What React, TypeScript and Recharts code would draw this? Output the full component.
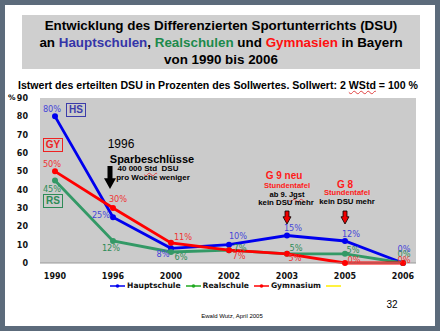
import React from "react";
import { LineChart, Line, XAxis, YAxis, CartesianGrid, Legend, LabelList } from "recharts";

const years = ["1990", "1996", "2000", "2002", "2003", "2005", "2006"];
const hauptschule = [80, 25, 8, 10, 15, 12, 0];
const realschule = [45, 12, 6, 7, 5, 5, 0];
const gymnasium = [50, 30, 11, 7, 5, 0, 0];
const yTicks = [0, 10, 20, 30, 40, 50, 60, 70, 80, 90];

// where each value label sits relative to its point (px)
const hsOffsets = [[-3, -7], [-12, -2], [-8, 6], [9, -9], [6, -8], [6, -7], [1, -14]];
const rsOffsets = [[-3, 8], [-2, 7], [10, 5], [11, -2], [9, -6], [8, -4], [1, -9]];
const gyOffsets = [[-3, -7], [5, -9], [12, -6], [10, 6], [8, 4], [9, -3], [1, -3]];

const series = [
  { key: "hs", name: "Hauptschule", color: "#0000ee", label: "#4646d8", offsets: hsOffsets },
  { key: "rs", name: "Realschule", color: "#339966", label: "#2e8b57", offsets: rsOffsets },
  { key: "gy", name: "Gymnasium", color: "#ff0000", label: "#ee3333", offsets: gyOffsets },
];
const legendItems = [
  { name: "Hauptschule", color: "#0000ee" },
  { name: "Realschule", color: "#22aa22" },
  { name: "Gymnasium", color: "#ff0000" },
  { name: "", color: "#ffee00" },
];

const data = years.map((year, i) => ({
  year,
  hs: hauptschule[i],
  rs: realschule[i],
  gy: gymnasium[i],
}));

const arial = "'Liberation Sans', Arial, sans-serif";
const verdana = "'DejaVu Sans', Verdana, sans-serif";
const squiggle: React.CSSProperties = {
  textDecoration: "underline wavy #e04040",
  textDecorationThickness: 1,
};

function makeLabel(color: string, offsets: number[][]) {
  return (props: any) => {
    const { x, y, value, index } = props;
    const [dx, dy] = offsets[index] || [0, -8];
    return (
      <text
        x={x + dx}
        y={y + dy}
        fill={color}
        fontSize={8.2}
        fontFamily={verdana}
        textAnchor="middle"
        dominantBaseline="central"
      >
        {value}%
      </text>
    );
  };
}

function LegendContent() {
  return (
    <div style={{ display: "flex", justifyContent: "center", paddingLeft: 16, fontFamily: verdana, fontSize: 7.6, fontWeight: "bold", color: "#111" }}>
      {legendItems.map((it) => (
        <div key={it.color} style={{ display: "flex", alignItems: "center", marginRight: 5 }}>
          <svg width={15} height={8}>
            <line x1={0} y1={4} x2={15} y2={4} stroke={it.color} strokeWidth={1.5} />
            {it.name && <circle cx={7.5} cy={4} r={1.8} fill={it.color} />}
          </svg>
          {it.name && <span style={{ marginLeft: 2 }}>{it.name}</span>}
        </div>
      ))}
    </div>
  );
}

function Box({ text, color, left, top }: { text: string; color: string; left: number; top: number }) {
  return (
    <div
      style={{
        position: "absolute", left, top, width: 18, height: 12,
        border: `1.5px solid ${color}`, color, fontFamily: arial, fontWeight: "bold",
        fontSize: 10, lineHeight: "12px", textAlign: "center",
      }}
    >
      {text}
    </div>
  );
}

function Txt({ cx, cy, size, color = "#000", bold = true, children }: any) {
  return (
    <div
      style={{
        position: "absolute", left: cx - 220, width: 440, top: cy - size * 0.6,
        textAlign: "center", fontFamily: arial, fontSize: size, lineHeight: `${size * 1.2}px`,
        fontWeight: bold ? "bold" : "normal", color, whiteSpace: "nowrap",
      }}
    >
      {children}
    </div>
  );
}

function DownArrow({ cx, top, h, w, shaft, fill }: any) {
  const head = w * 0.9;
  return (
    <svg style={{ position: "absolute", left: cx - w / 2 - 1, top }} width={w + 2} height={h + 2}>
      <polygon
        points={`${1 + w / 2 - shaft / 2},1 ${1 + w / 2 + shaft / 2},1 ${1 + w / 2 + shaft / 2},${1 + h - head} ${1 + w},${1 + h - head} ${1 + w / 2},${1 + h} 1,${1 + h - head} ${1 + w / 2 - shaft / 2},${1 + h - head}`}
        fill={fill}
        stroke="#000"
        strokeWidth={fill === "#000" ? 0 : 0.8}
      />
    </svg>
  );
}

export default function App() {
  return (
    <div style={{ position: "absolute", left: 0, top: 0, width: 440, height: 331, background: "#5c6b7b", overflow: "hidden" }}>
      <div style={{ position: "absolute", left: 5, top: 5, width: 430, height: 321, background: "#fff" }} />
      <div style={{ position: "absolute", left: 22, top: 15, width: 398, height: 54, background: "#cfcfcf" }} />
      <Txt cx={221} cy={26} size={13.4}>Entwicklung des Differenzierten Sportunterrichts (DSU)</Txt>
      <Txt cx={221} cy={43} size={13.4}>
        an <span style={{ color: "#3535a8" }}>Hauptschulen</span>, <span style={{ color: "#1c8a4c" }}>Realschulen</span> und{" "}
        <span style={{ color: "#ff1010" }}>Gymnasien</span> in Bayern
      </Txt>
      <Txt cx={221} cy={60} size={13.4}>von 1990 bis 2006</Txt>
      <Txt cx={218} cy={85} size={10.6}>
        Istwert des erteilten DSU in Prozenten des Sollwertes. Sollwert: 2 <span style={squiggle}>WStd</span> = 100 %
      </Txt>
      <div style={{ position: "absolute", left: 0, top: 0 }}>
        <LineChart width={440} height={300} data={data} margin={{ top: 98, right: 24, left: 10, bottom: 5 }}>
          <CartesianGrid horizontal={false} vertical={false} fill="#cbcbcb" />
          <XAxis
            dataKey="year"
            height={18}
            padding={{ left: 15, right: 13 }}
            axisLine={{ stroke: "#999" }}
            tickLine={false}
            tick={{ fontSize: 8, fontWeight: "bold", fontFamily: verdana, fill: "#111" }}
            tickMargin={4}
          />
          <YAxis
            width={30}
            domain={[0, 90]}
            ticks={yTicks}
            axisLine={false}
            tickLine={false}
            tickMargin={6}
            tick={{ fontSize: 8, fontWeight: "bold", fontFamily: verdana, fill: "#111" }}
          />
          <Legend verticalAlign="bottom" height={14} wrapperStyle={{ left: 0, width: 440 }} content={<LegendContent />} />
          {series.map((s) => (
            <Line
              key={s.key}
              dataKey={s.key}
              name={s.name}
              stroke={s.color}
              strokeWidth={2.8}
              dot={{ r: 1.6, fill: s.color, stroke: s.color }}
              isAnimationActive={false}
            >
              <LabelList dataKey={s.key} content={makeLabel(s.label, s.offsets)} />
            </Line>
          ))}
        </LineChart>
      </div>
      <div style={{ position: "absolute", left: 8, top: 93, fontFamily: verdana, fontSize: 7.5, fontWeight: "bold" }}>%</div>
      <Box text="HS" color="#3c3caa" left={66} top={103} />
      <Box text="GY" color="#ee2222" left={43} top={138} />
      <Box text="RS" color="#2e8b57" left={43} top={194} />
      <Txt cx={121} cy={144} size={12} bold={false}>1996</Txt>
      <Txt cx={152} cy={160} size={11}>Sparbeschlüsse</Txt>
      <Txt cx={148} cy={169} size={8}>
        40 000 <span style={squiggle}>Std</span>&nbsp; DSU
      </Txt>
      <Txt cx={153} cy={178} size={8}>pro Woche weniger</Txt>
      <DownArrow cx={110} top={165} h={23} w={12} shaft={5} fill="#000" />
      <Txt cx={284} cy={176} size={10} color="#ff1a1a">G 9 neu</Txt>
      <Txt cx={287} cy={186} size={7.6} color="#ff1a1a">Stundentafel</Txt>
      <Txt cx={287} cy={195} size={7.6}>
        ab 9. <span style={squiggle}>Jgst</span>
      </Txt>
      <Txt cx={286} cy={203} size={7.8}>kein DSU mehr</Txt>
      <DownArrow cx={287} top={210} h={13} w={8} shaft={4} fill="#ee0000" />
      <Txt cx={345} cy={185} size={10} color="#ff1a1a">G 8</Txt>
      <Txt cx={347} cy={193} size={7.6} color="#ff1a1a">Stundentafel</Txt>
      <Txt cx={347} cy={202} size={7.8}>kein DSU mehr</Txt>
      <DownArrow cx={345} top={210} h={13} w={8} shaft={4} fill="#ee0000" />
      <Txt cx={392} cy={305} size={10} bold={false}>32</Txt>
      <Txt cx={232} cy={317} size={6} bold={false}>Ewald Wutz, April 2005</Txt>
    </div>
  );
}
